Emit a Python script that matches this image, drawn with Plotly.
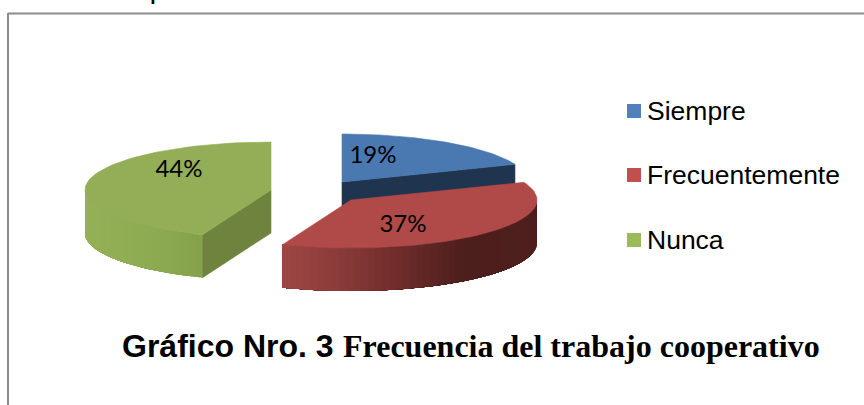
import math
import plotly.graph_objects as go

categories = ["Siempre", "Frecuentemente", "Nunca"]
values = [19, 37, 44]
top_colors = ["#4a78b0", "#b04a48", "#93ae56"]
legend_colors = ["#4f81bd", "#c0504d", "#9bbb59"]
legend_y = [111, 175, 240]
apex = [(342, 182), (351, 200), (271, 190)]
label_xy = [(373, 157), (403, 226), (179, 171)]

RX, RY, DEPTH = 186, 48, 43
W, H = 864, 405


def pt(c, deg, dy=0):
    t = math.radians(deg)
    return c[0] + RX * math.sin(t), c[1] - RY * math.cos(t) + dy


def arc(c, a0, a1, dy=0, n=60):
    return [pt(c, a0 + (a1 - a0) * i / n, dy) for i in range(n + 1)]


def mix(c1, c2, f):
    a = [int(c1[i:i + 2], 16) for i in (1, 3, 5)]
    b = [int(c2[i:i + 2], 16) for i in (1, 3, 5)]
    return "#%02x%02x%02x" % tuple(round(a[i] + (b[i] - a[i]) * f) for i in range(3))


fig = go.Figure()


def poly(points, color, lw=0.6):
    fig.add_trace(go.Scatter(
        x=[p[0] for p in points] + [points[0][0]],
        y=[p[1] for p in points] + [points[0][1]],
        mode="lines", fill="toself", fillcolor=color,
        line=dict(color=color, width=lw), hoverinfo="skip", showlegend=False))


def rim(c, a0, a1, stops, n=36):
    # painted back to front: every strip runs to the far end of the rim, so no seams show
    for i in range(n):
        s = a0 + (a1 - a0) * i / n
        e = a0 + (a1 - a0) * (i + 1) / n
        x = pt(c, (s + e) / 2)[0]
        xs = [q[0] for q in stops]
        col = stops[-1][1]
        if x <= xs[0]:
            col = stops[0][1]
        else:
            for j in range(len(stops) - 1):
                if stops[j][0] <= x <= stops[j + 1][0]:
                    col = mix(stops[j][1], stops[j + 1][1], (x - xs[j]) / (xs[j + 1] - xs[j]))
                    break
        poly(arc(c, s, a1, 0, 40) + arc(c, a1, s, DEPTH, 40), col, 0)


bounds = [0]
for v in values:
    bounds.append(bounds[-1] + v / sum(values) * 360)

# green slice
g = apex[2]
rim(g, bounds[2], 270, [(85, "#94b157"), (150, "#8dab51"), (205, "#84a14a")])
poly([g, pt(g, bounds[2]), pt(g, bounds[2], DEPTH), (g[0], g[1] + DEPTH)], "#6e833d")
poly([g] + arc(g, bounds[2], bounds[3]), top_colors[2])

# blue slice
b = apex[0]
poly([b, pt(b, bounds[1]), pt(b, bounds[1], DEPTH), (b[0], b[1] + DEPTH)], "#1f344f")
poly([b] + arc(b, bounds[0], bounds[1]), top_colors[0])

# red slice
r = apex[1]
rim(r, 90, bounds[2], [(284, "#9d4644"), (340, "#8a3b39"), (400, "#6e2c2a"), (465, "#4c1e1c"), (537, "#4e1f1d")], n=50)
poly([r] + arc(r, bounds[1], bounds[2]), top_colors[1])

# data labels
fig.add_trace(go.Scatter(
    x=[p[0] for p in label_xy], y=[p[1] for p in label_xy],
    mode="text", text=["%d%%" % v for v in values],
    textfont=dict(family="Lato", size=24, color="#000000"),
    hoverinfo="skip", showlegend=False))

# legend keys
fig.add_trace(go.Scatter(
    x=[634] * 3, y=legend_y, mode="markers",
    marker=dict(symbol="square", size=14, color=legend_colors, line=dict(width=0)),
    hoverinfo="skip", showlegend=False))

ann = [dict(x=645, y=y, text=t, xanchor="left", yanchor="middle", showarrow=False,
            font=dict(family="Liberation Sans", size=26.5, color="#000000"))
       for t, y in zip(categories, legend_y)]
ann.append(dict(x=120, y=346, text="<b>Gráfico Nro. 3</b>", xanchor="left", yanchor="middle", showarrow=False,
                font=dict(family="Liberation Sans", size=32, color="#000000")))
ann.append(dict(x=341, y=346, text="<b>Frecuencia del trabajo cooperativo</b>", xanchor="left", yanchor="middle",
                showarrow=False, font=dict(family="Liberation Serif", size=32, color="#000000")))
ann.append(dict(x=50, y=0, text="<b>Elaborado por: Consuelo Cumbe</b>", xanchor="left", yanchor="bottom",
                yshift=-6.4, showarrow=False, font=dict(family="Liberation Sans", size=19, color="#000000")))

fig.update_layout(
    width=W, height=H, margin=dict(l=0, r=0, t=0, b=0), autosize=False,
    paper_bgcolor="#ffffff", plot_bgcolor="#ffffff", annotations=ann,
    xaxis=dict(range=[0, W], visible=False, fixedrange=True),
    yaxis=dict(range=[H, 0], visible=False, fixedrange=True),
    shapes=[
        dict(type="line", x0=8, x1=W, y0=13.5, y1=13.5, line=dict(color="#8c8c8c", width=2)),
        dict(type="line", x0=8, x1=8, y0=13, y1=H, line=dict(color="#8c8c8c", width=2)),
    ],
)
fig.write_html("out.html", config=dict(displayModeBar=False),
               post_script="document.body.style.margin='0';document.body.style.overflow='hidden';")
